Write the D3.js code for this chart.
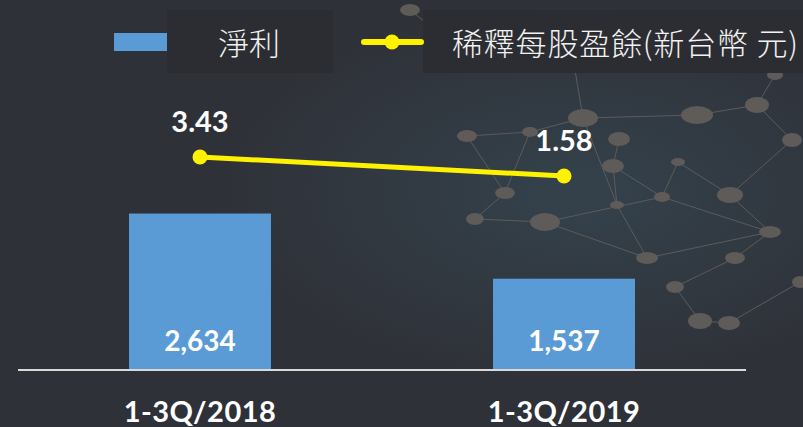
<!DOCTYPE html>
<html>
<head>
<meta charset="utf-8">
<script src="https://cdn.jsdelivr.net/npm/d3@7"></script>
<style>
  html, body { margin: 0; padding: 0; background: #2f3138; overflow: hidden; }
  svg { display: block; }
</style>
</head>
<body>
<div id="chart"></div>
<script>
// data
var categories = ["1-3Q/2018", "1-3Q/2019"];
var netIncome = [2634, 1537];
var eps = [3.43, 1.58];
var legendLabels = ["淨利", "稀釋每股盈餘(新台幣 元)"];

// decorative network in the background (not data)
var netNodes = [
  [467, 136, 10, 6], [530, 132, 8, 5], [583, 118, 15, 9], [619, 139, 11, 7],
  [613, 166, 11, 7], [505, 193, 10, 6], [545, 222, 15, 9], [475, 219, 9, 6],
  [662, 197, 8, 5], [678, 162, 7, 4], [697, 115, 16, 9], [730, 195, 13, 8],
  [770, 232, 11, 6], [735, 258, 10, 6], [647, 258, 11, 6], [617, 205, 7, 4],
  [757, 105, 12, 8], [792, 140, 10, 7], [675, 287, 9, 6], [700, 321, 12, 8],
  [729, 323, 11, 7], [800, 282, 8, 6], [570, 40, 9, 6], [600, 60, 8, 5],
  [640, 20, 8, 5], [410, 10, 10, 6], [440, 34, 9, 6], [775, 75, 8, 5]
];
var netEdges = [
  [0, 1], [1, 2], [2, 10], [0, 5], [3, 4], [4, 8], [5, 7], [7, 6], [6, 14],
  [14, 12], [8, 9], [9, 11], [10, 16], [16, 17], [11, 12], [12, 13], [13, 18],
  [18, 19], [8, 6], [2, 15], [15, 14], [11, 17], [19, 20], [20, 21], [1, 5],
  [22, 23], [23, 24], [25, 26], [2, 22], [16, 27], [4, 15], [8, 12]
];

var width = 803,
  height = 427,
  baseY = 370;

var svg = d3.select("#chart")
  .append("svg")
  .attr("width", width)
  .attr("height", height);

// background
var defs = svg.append("defs");
var glow = defs.append("radialGradient")
  .attr("id", "glow")
  .attr("cx", "72%").attr("cy", "45%").attr("r", "45%");
glow.append("stop").attr("offset", "0%").attr("stop-color", "#34424c");
glow.append("stop").attr("offset", "100%").attr("stop-color", "#2f3138");

svg.append("rect")
  .attr("width", width)
  .attr("height", height)
  .attr("fill", "url(#glow)");

var deco = svg.append("g").attr("class", "deco");
deco.selectAll("line")
  .data(netEdges)
  .enter()
  .append("line")
  .attr("x1", function(d) { return netNodes[d[0]][0]; })
  .attr("y1", function(d) { return netNodes[d[0]][1]; })
  .attr("x2", function(d) { return netNodes[d[1]][0]; })
  .attr("y2", function(d) { return netNodes[d[1]][1]; })
  .attr("stroke", "#5d5b5a")
  .attr("stroke-width", 1);
deco.selectAll("ellipse")
  .data(netNodes)
  .enter()
  .append("ellipse")
  .attr("cx", function(d) { return d[0]; })
  .attr("cy", function(d) { return d[1]; })
  .attr("rx", function(d) { return d[2]; })
  .attr("ry", function(d) { return d[3]; })
  .attr("fill", "#5e5b59");

// scales
var x = d3.scaleBand()
  .domain(categories)
  .range([18, 746])
  .paddingInner(0.61)
  .paddingOuter(0.305);

var y = d3.scaleLinear()
  .domain([0, 5000])
  .range([baseY, 73]);

var yEps = d3.scaleLinear()
  .domain([0, 10])
  .range([192.2, 89.5]);

var rows = categories.map(function(c, i) {
  return {cat: c, net: netIncome[i], eps: eps[i]};
});

// bars
svg.selectAll(".bar")
  .data(rows)
  .enter()
  .append("rect")
  .attr("class", "bar")
  .attr("x", function(d) { return x(d.cat); })
  .attr("y", function(d) { return y(d.net); })
  .attr("width", x.bandwidth())
  .attr("height", function(d) { return baseY - y(d.net); })
  .attr("fill", "#5b9bd5");

svg.selectAll(".bar-label")
  .data(rows)
  .enter()
  .append("text")
  .attr("class", "bar-label")
  .attr("x", function(d) { return x(d.cat) + x.bandwidth() / 2; })
  .attr("y", baseY - 19)
  .attr("text-anchor", "middle")
  .style("font-family", "Lato, sans-serif")
  .style("font-weight", "bold")
  .style("font-size", "28px")
  .style("fill", "#fff")
  .text(function(d) { return d3.format(",")(d.net); });

// x axis line + labels
svg.append("line")
  .attr("x1", 18)
  .attr("x2", 746)
  .attr("y1", baseY)
  .attr("y2", baseY)
  .attr("stroke", "#d9d9d9")
  .attr("stroke-width", 2);

svg.selectAll(".cat-label")
  .data(categories)
  .enter()
  .append("text")
  .attr("class", "cat-label")
  .attr("x", function(d) { return x(d) + x.bandwidth() / 2; })
  .attr("y", 422)
  .attr("text-anchor", "middle")
  .style("font-family", "Lato, sans-serif")
  .style("font-weight", "bold")
  .style("font-size", "29px")
  .style("letter-spacing", "0.5px")
  .style("fill", "#fff")
  .text(function(d) { return d; });

// eps line
var line = d3.line()
  .x(function(d) { return x(d.cat) + x.bandwidth() / 2; })
  .y(function(d) { return yEps(d.eps); });

svg.append("path")
  .datum(rows)
  .attr("d", line)
  .attr("fill", "none")
  .attr("stroke", "#fff200")
  .attr("stroke-width", 5);

svg.selectAll(".dot")
  .data(rows)
  .enter()
  .append("circle")
  .attr("class", "dot")
  .attr("cx", function(d) { return x(d.cat) + x.bandwidth() / 2; })
  .attr("cy", function(d) { return yEps(d.eps); })
  .attr("r", 7.5)
  .attr("fill", "#fff200");

svg.selectAll(".eps-label")
  .data(rows)
  .enter()
  .append("text")
  .attr("class", "eps-label")
  .attr("x", function(d) { return x(d.cat) + x.bandwidth() / 2; })
  .attr("y", function(d) { return yEps(d.eps) - 25; })
  .attr("text-anchor", "middle")
  .style("font-family", "Lato, sans-serif")
  .style("font-weight", "bold")
  .style("font-size", "29px")
  .style("fill", "#fff")
  .text(function(d) { return d.eps.toFixed(2); });

// legend
var legend = svg.append("g").attr("class", "legend");

legend.append("rect")
  .attr("x", 167).attr("y", 10)
  .attr("width", 166).attr("height", 63)
  .attr("fill", "#2c2d32");
legend.append("rect")
  .attr("x", 423).attr("y", 10)
  .attr("width", 380).attr("height", 63)
  .attr("fill", "#2c2d32");

legend.append("rect")
  .attr("x", 114).attr("y", 33)
  .attr("width", 53).attr("height", 18)
  .attr("fill", "#5b9bd5");

legend.append("line")
  .attr("x1", 364).attr("x2", 421)
  .attr("y1", 42).attr("y2", 42)
  .attr("stroke", "#fff200")
  .attr("stroke-width", 6)
  .attr("stroke-linecap", "round");
legend.append("circle")
  .attr("cx", 392).attr("cy", 42)
  .attr("r", 7.5)
  .attr("fill", "#fff200");

legend.selectAll(".legend-label")
  .data(legendLabels)
  .enter()
  .append("text")
  .attr("class", "legend-label")
  .attr("x", function(d, i) { return i === 0 ? 218 : 452; })
  .attr("y", 55)
  .style("font-family", "'Noto Sans CJK TC', sans-serif")
  .style("font-weight", 300)
  .style("font-size", "31px")
  .style("letter-spacing", function(d, i) { return i === 0 ? "0px" : "0.8px"; })
  .style("fill", "#f2f2f2")
  .text(function(d) { return d; });
</script>
</body>
</html>
